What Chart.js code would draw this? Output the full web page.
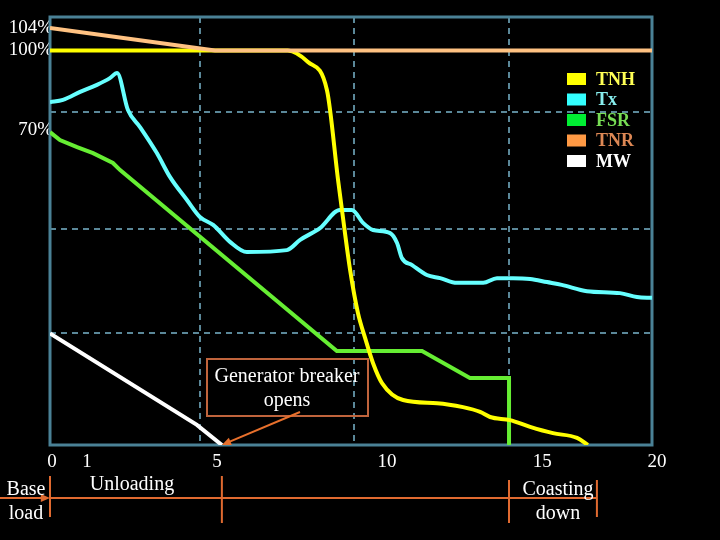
<!DOCTYPE html>
<html>
<head>
<meta charset="utf-8">
<script src="https://cdn.jsdelivr.net/npm/chart.js@4.4.0/dist/chart.umd.min.js"></script>
<style>
  body { margin: 0; background: #000; }
  canvas { display: block; }
</style>
</head>
<body>
<canvas id="grafico" width="720" height="540"></canvas>
<script>
// Datos de las curvas (x = tiempo, y = % de escala)
let tnhX = [0, 7.9, 8.57, 9.2, 9.57, 9.7, 9.97, 10.23, 10.47, 10.73, 11.03, 11.73, 12.86, 13.72, 14.29, 14.62, 15.28, 15.95, 16.71, 17.51, 17.87];
let tnhY = [100, 100, 97.1, 90.0, 67.2, 59.6, 44.4, 33.5, 27.1, 20.8, 15.7, 11.4, 10.6, 9.6, 8.4, 7.1, 6.3, 4.6, 3.0, 1.8, 0];

let txX = [0, 0.43, 1.0, 1.56, 1.99, 2.23, 2.59, 2.99, 3.55, 3.99, 4.55, 4.98, 5.42, 5.98, 6.54, 7.87, 8.31, 8.97, 9.63, 10.03, 10.4, 10.73, 11.3, 11.53, 11.69, 12.03, 12.52, 12.96, 13.52, 14.39, 14.85, 15.38, 15.95, 16.51, 17.0, 17.84, 18.94, 19.5, 20];
let txY = [86.9, 87.5, 89.5, 91.3, 93.0, 94.3, 84.9, 80.6, 74.0, 67.9, 62.1, 57.8, 55.8, 51.5, 48.9, 49.4, 52.0, 55.0, 59.6, 59.6, 56.3, 54.5, 53.7, 51.2, 47.4, 45.6, 43.1, 42.3, 41.1, 41.1, 42.3, 42.3, 42.1, 41.3, 40.6, 39.0, 38.5, 37.5, 37.3];

let fsrX = [0, 0.33, 0.9, 1.43, 2.09, 2.33, 9.53, 12.36, 13.95, 15.25, 15.25];
let fsrY = [79.3, 77.3, 75.5, 74.0, 71.5, 69.7, 23.8, 23.8, 17.0, 17.0, 0];

let tnrX = [0, 5.48, 20];
let tnrY = [105.7, 100, 100];

let mwX = [0, 4.88, 5.71];
let mwY = [28.3, 5.1, 0];

// Etiquetas de los ejes
let xTickLabels = ['0', '1', '5', '10', '15', '20'];
let xTickAt = [0.07, 1.23, 5.55, 11.2, 16.35, 20.17];
let yTickLabels = ['104%', '100%', '70%'];
let yTickAt = [105.7, 100.1, 79.8];
let xGridAt = [4.98, 10.1, 15.25];
let yGridAt = [28.3, 54.8, 84.5];

// Fases de la parada
let phaseNames = [['Base', 'load'], ['Unloading'], ['Coasting', 'down']];
let phaseBounds = [0, 5.71, 15.25, 18.17];

let legendText = ['#ffff55', '#88eeee', '#77dd55', '#dd8855', '#ffffff'];

function puntos(xs, ys) {
  return xs.map(function(x, i) { return {x: x, y: ys[i]}; });
}

const serif = '"Liberation Serif", "Times New Roman", serif';
Chart.defaults.font.family = serif;
Chart.defaults.color = '#ffffff';

// Marco del area del grafico
const marco = {
  id: 'marco',
  beforeDatasetsDraw(chart) {
    const a = chart.chartArea, ctx = chart.ctx;
    ctx.save();
    ctx.strokeStyle = '#4a8196';
    ctx.lineWidth = 3;
    ctx.strokeRect(a.left, a.top, a.right - a.left, a.bottom - a.top);
    ctx.restore();
  }
};

function flecha(ctx, x1, y1, x2, y2, color) {
  const ang = Math.atan2(y2 - y1, x2 - x1);
  ctx.strokeStyle = color;
  ctx.fillStyle = color;
  ctx.lineWidth = 2;
  ctx.beginPath();
  ctx.moveTo(x1, y1);
  ctx.lineTo(x2 - 6 * Math.cos(ang), y2 - 6 * Math.sin(ang));
  ctx.stroke();
  ctx.beginPath();
  ctx.moveTo(x2, y2);
  ctx.lineTo(x2 - 10 * Math.cos(ang - 0.4), y2 - 10 * Math.sin(ang - 0.4));
  ctx.lineTo(x2 - 10 * Math.cos(ang + 0.4), y2 - 10 * Math.sin(ang + 0.4));
  ctx.closePath();
  ctx.fill();
}

// Leyenda, notas y linea de fases
const notas = {
  id: 'notas',
  afterDraw(chart) {
    const ctx = chart.ctx;
    const xs = chart.scales.x, ys = chart.scales.y;
    ctx.save();

    // leyenda
    chart.data.datasets.forEach(function(ds, i) {
      const y = 73 + i * 20.5;
      ctx.fillStyle = ds.backgroundColor;
      ctx.fillRect(567, y, 19, 12);
      ctx.fillStyle = legendText[i];
      ctx.font = 'bold 18px ' + serif;
      ctx.textAlign = 'left';
      ctx.textBaseline = 'middle';
      ctx.fillText(ds.label, 596, y + 7);
    });

    // caja "Generator breaker opens"
    ctx.strokeStyle = '#c0643c';
    ctx.lineWidth = 2;
    ctx.strokeRect(207, 359, 161, 57);
    ctx.fillStyle = '#ffffff';
    ctx.font = '20px ' + serif;
    ctx.textAlign = 'center';
    ctx.textBaseline = 'middle';
    ctx.fillText('Generator breaker', 287, 377);
    ctx.fillText('opens', 287, 401);
    flecha(ctx, 300, 412, xs.getPixelForValue(mwX[mwX.length - 1]), ys.getPixelForValue(0), '#e8702c');

    // linea de fases
    const yl = 498;
    const px = phaseBounds.map(function(v) { return xs.getPixelForValue(v); });
    ctx.strokeStyle = '#e06a30';
    ctx.lineWidth = 2;
    ctx.beginPath();
    ctx.moveTo(px[0], yl);
    ctx.lineTo(px[px.length - 1], yl);
    ctx.stroke();
    flecha(ctx, 0, yl, px[0], yl, '#e06a30');
    const tops = [476, 476, 480, 480];
    const bots = [517, 523, 523, 517];
    ctx.strokeStyle = '#e06a30';
    px.forEach(function(p, i) {
      ctx.beginPath();
      ctx.moveTo(p, tops[i]);
      ctx.lineTo(p, bots[i]);
      ctx.stroke();
    });
    ctx.fillStyle = '#ffffff';
    ctx.font = '20px ' + serif;
    ctx.fillText(phaseNames[0][0], 26, 490);
    ctx.fillText(phaseNames[0][1], 26, 514);
    ctx.fillText(phaseNames[1][0], (px[0] + px[1]) / 2 - 4, 485);
    ctx.fillText(phaseNames[2][0], (px[2] + px[3]) / 2 + 5, 490);
    ctx.fillText(phaseNames[2][1], (px[2] + px[3]) / 2 + 5, 514);
    ctx.restore();
  }
};

let graf = document.getElementById('grafico').getContext('2d');
let grafico = new Chart(graf, {
  type: 'line',
  data: {
    datasets: [{
      label: 'TNH',
      data: puntos(tnhX, tnhY),
      borderColor: '#ffff00',
      backgroundColor: '#ffff00',
      borderWidth: 4,
      pointRadius: 0,
      cubicInterpolationMode: 'monotone',
      order: 1
    }, {
      label: 'Tx',
      data: puntos(txX, txY),
      borderColor: '#66ffff',
      backgroundColor: '#33ffff',
      borderWidth: 4,
      pointRadius: 0,
      cubicInterpolationMode: 'monotone',
      order: 2
    }, {
      label: 'FSR',
      data: puntos(fsrX, fsrY),
      borderColor: '#66ee33',
      backgroundColor: '#00ee33',
      borderWidth: 4,
      pointRadius: 0,
      order: 3
    }, {
      label: 'TNR',
      data: puntos(tnrX, tnrY),
      borderColor: '#ffc282',
      backgroundColor: '#ff9944',
      borderWidth: 4,
      pointRadius: 0,
      order: 0
    }, {
      label: 'MW',
      data: puntos(mwX, mwY),
      borderColor: '#ffffff',
      backgroundColor: '#ffffff',
      borderWidth: 4,
      pointRadius: 0,
      order: 4
    }]
  },
  options: {
    responsive: false,
    animation: false,
    layout: { padding: { top: 17, right: 68, left: 0, bottom: 0 } },
    plugins: {
      legend: { display: false },
      tooltip: { enabled: false }
    },
    scales: {
      x: {
        type: 'linear', min: 0, max: 20, position: 'bottom',
        ticks: { display: false },
        grid: { color: '#5b8899', lineWidth: 2, drawTicks: false },
        border: { display: false, dash: [6, 5] },
        afterBuildTicks: function(s) { s.ticks = xGridAt.map(function(v) { return {value: v}; }); },
        afterFit: function(s) { s.height = 0; }
      },
      xl: {
        type: 'linear', min: 0, max: 20, position: 'bottom',
        grid: { display: false, drawTicks: false },
        border: { display: false },
        ticks: {
          color: '#ffffff', font: { size: 19 }, padding: 6, autoSkip: false, maxRotation: 0,
          callback: function(v, i) { return xTickLabels[i]; }
        },
        afterBuildTicks: function(s) { s.ticks = xTickAt.map(function(v) { return {value: v}; }); },
        afterFit: function(s) { s.height = 95; }
      },
      y: {
        type: 'linear', min: 0, max: 108.5, position: 'left',
        ticks: { display: false },
        grid: { color: '#5b8899', lineWidth: 2, drawTicks: false },
        border: { display: false, dash: [6, 5] },
        afterBuildTicks: function(s) { s.ticks = yGridAt.map(function(v) { return {value: v}; }); },
        afterFit: function(s) { s.width = 0; }
      },
      yl: {
        type: 'linear', min: 0, max: 108.5, position: 'left',
        grid: { display: false, drawTicks: false },
        border: { display: false },
        ticks: {
          color: '#ffffff', font: { size: 19 }, padding: -3, autoSkip: false,
          callback: function(v, i) { return yTickLabels[i]; }
        },
        afterBuildTicks: function(s) { s.ticks = yTickAt.map(function(v) { return {value: v}; }); },
        afterFit: function(s) { s.width = 50; }
      }
    }
  },
  plugins: [marco, notas]
});
</script>
</body>
</html>
